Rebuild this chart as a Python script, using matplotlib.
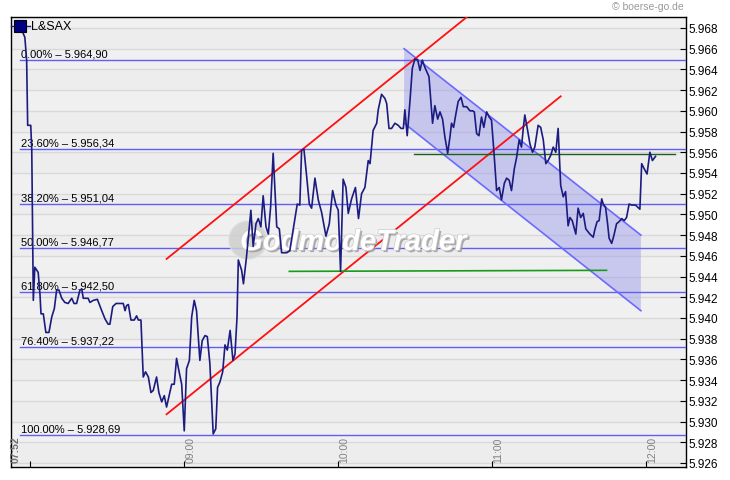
#!/usr/bin/env python3
"""
L&SAX intraday chart with Fibonacci retracements and trend channels
"""

import numpy as np
import matplotlib
matplotlib.use('Agg')
import matplotlib.pyplot as plt
import matplotlib.patheffects as pe
from matplotlib.patches import Ellipse

plt.rcParams['font.family'] = ['Liberation Sans', 'DejaVu Sans']

# minutes relative to 09:00, and index value
minutes = [-64.1, -62.2, -61.5, -61.1, -59.9, -59.5, -58.9, -58.3, -57.0, -56.3,
           -55.9, -55.0, -54.0, -52.8, -51.7, -50.7, -49.8, -48.9, -47.8, -46.6,
           -45.3, -43.9, -43.0, -42.0, -40.7, -40.0, -39.4, -37.5, -36.8, -35.5,
           -33.9, -32.2, -30.9, -29.7, -29.0, -27.9, -26.6, -23.8, -23.1, -22.5,
           -21.8, -20.8, -19.5, -18.6, -17.9, -16.9, -16.0, -15.1, -14.0, -13.0,
           -12.1, -10.8, -9.9, -8.8, -7.8, -6.9, -5.9, -4.9, -3.9, -3.0,
           -2.0, -1.0, 0.0, 0.9, 2.0, 2.9, 3.9, 4.8, 6.1, 7.0,
           8.1, 9.0, 10.0, 11.3, 12.3, 13.0, 13.9, 15.0, 15.9, 16.8,
           17.9, 19.0, 19.8, 20.6, 21.1, 22.4, 23.1, 24.3, 26.0, 26.9,
           28.0, 28.9, 29.9, 30.8, 31.9, 32.8, 33.7, 34.7, 36.1, 37.1,
           38.0, 40.0, 41.2, 42.5, 44.1, 45.1, 45.8, 46.7, 47.8, 48.8,
           49.7, 51.0, 52.3, 53.6, 55.3, 56.6, 57.9, 59.2, 60.1, 61.0,
           62.0, 63.1, 64.0, 65.3, 66.8, 68.0, 69.2, 70.5, 71.8, 72.5,
           73.7, 75.1, 75.7, 77.0, 78.3, 79.0, 79.9, 80.9, 82.2, 83.5,
           84.6, 85.5, 86.1, 87.0, 88.1, 89.0, 90.0, 91.1, 92.0, 92.9,
           93.9, 95.5, 96.9, 97.8, 98.9, 99.8, 100.8, 101.7, 102.8, 103.7,
           104.3, 105.1, 106.0, 106.9, 108.0, 108.9, 110.2, 111.5, 112.5, 113.2,
           114.1, 115.0, 116.0, 116.9, 118.0, 119.0, 119.9, 120.8, 121.9, 122.9,
           123.8, 124.9, 125.8, 126.8, 127.7, 128.8, 129.7, 130.7, 131.6, 132.3,
           132.9, 134.0, 134.9, 135.9, 136.8, 138.1, 139.1, 140.1, 141.1, 142.0,
           143.0, 144.0, 145.0, 145.9, 146.9, 147.9, 148.8, 149.8, 150.5, 151.4,
           152.8, 153.7, 154.7, 155.7, 156.7, 158.3, 159.6, 160.2, 161.1, 161.9,
           162.9, 163.5, 164.4, 165.2, 165.8, 166.8, 167.7, 168.7, 169.7, 170.7,
           171.7, 172.6, 173.6, 174.6, 176.1, 177.8, 178.5, 179.5, 180.6, 181.7,
           182.7, 183.9]
prices = [5.9682, 5.9671, 5.9649, 5.9586, 5.9586, 5.9562, 5.9417, 5.9449, 5.9444, 5.9423,
          5.9404, 5.9404, 5.9386, 5.9386, 5.9401, 5.9409, 5.9427, 5.9427, 5.9419, 5.9415,
          5.9414, 5.9419, 5.9414, 5.9414, 5.9427, 5.9428, 5.9419, 5.9419, 5.9415, 5.9417,
          5.9418, 5.9407, 5.9399, 5.9394, 5.9394, 5.9411, 5.9414, 5.9414, 5.9407, 5.9412,
          5.9413, 5.9398, 5.9398, 5.9402, 5.9398, 5.9398, 5.9343, 5.9348, 5.9343, 5.9328,
          5.9330, 5.9343, 5.9328, 5.9319, 5.9325, 5.9314, 5.9325, 5.9336, 5.9336, 5.9361,
          5.9348, 5.9336, 5.9291, 5.9351, 5.9359, 5.9401, 5.9417, 5.9407, 5.9359, 5.9378,
          5.9383, 5.9382, 5.9356, 5.9288, 5.9293, 5.9333, 5.9338, 5.9348, 5.9374, 5.9369,
          5.9388, 5.9359, 5.9365, 5.9401, 5.9456, 5.9446, 5.9433, 5.9459, 5.9504, 5.9469,
          5.9491, 5.9496, 5.9488, 5.9518, 5.9488, 5.9481, 5.9507, 5.9559, 5.9488, 5.9486,
          5.9463, 5.9463, 5.9465, 5.9485, 5.9510, 5.9509, 5.9562, 5.9563, 5.9536, 5.9510,
          5.9506, 5.9535, 5.9514, 5.9502, 5.9479, 5.9491, 5.9523, 5.9509, 5.9504, 5.9445,
          5.9534, 5.9526, 5.9501, 5.9515, 5.9526, 5.9496, 5.9520, 5.9526, 5.9552, 5.9549,
          5.9581, 5.9588, 5.9601, 5.9616, 5.9612, 5.9607, 5.9583, 5.9583, 5.9588, 5.9586,
          5.9583, 5.9583, 5.9601, 5.9576, 5.9610, 5.9641, 5.9650, 5.9649, 5.9639, 5.9649,
          5.9642, 5.9633, 5.9588, 5.9605, 5.9592, 5.9599, 5.9592, 5.9575, 5.9559, 5.9575,
          5.9588, 5.9584, 5.9597, 5.9609, 5.9613, 5.9604, 5.9604, 5.9600, 5.9600, 5.9599,
          5.9578, 5.9576, 5.9594, 5.9584, 5.9599, 5.9594, 5.9591, 5.9562, 5.9523, 5.9526,
          5.9514, 5.9530, 5.9535, 5.9533, 5.9523, 5.9544, 5.9555, 5.9572, 5.9565, 5.9583,
          5.9596, 5.9581, 5.9568, 5.9560, 5.9565, 5.9586, 5.9584, 5.9572, 5.9549, 5.9552,
          5.9557, 5.9565, 5.9560, 5.9583, 5.9528, 5.9517, 5.9522, 5.9489, 5.9497, 5.9494,
          5.9481, 5.9506, 5.9497, 5.9501, 5.9486, 5.9481, 5.9478, 5.9485, 5.9493, 5.9494,
          5.9515, 5.9510, 5.9507, 5.9491, 5.9477, 5.9472, 5.9480, 5.9491, 5.9493, 5.9496,
          5.9494, 5.9497, 5.9510, 5.9509, 5.9509, 5.9505, 5.9549, 5.9544, 5.9539, 5.9560,
          5.9552, 5.9556]

fib_pct = ['0.00%', '23.60%', '38.20%', '50.00%', '61.80%', '76.40%', '100.00%']
fib_levels = [5.96490, 5.95634, 5.95104, 5.94677, 5.94250, 5.93722, 5.92869]
fib_start = -64.1

# trend lines: (x0, y0, x1, y1)
red_upper = (-6.9, 5.9457, 112.0, 5.9694)
red_lower = (-6.9, 5.9307, 146.9, 5.9614)
chan_upper = (85.8, 5.9660, 178.2, 5.9480)
chan_lower = (85.8, 5.9588, 178.2, 5.9407)
green_low = (41.0, 5.9445, 164.8, 5.9446)
green_high = (89.7, 5.9558, 191.7, 5.9558)

tick_minutes = [-60, 0, 60, 120, 180]
tick_labels = ['', '09:00', '10:00', '11:00', '12:00']
y_ticks = np.round(np.arange(5.926, 5.9681, 0.002), 3)

fig = plt.figure(figsize=(7.3, 4.81), dpi=100)
fig.patch.set_facecolor('white')
ax = fig.add_axes([10.5 / 730, 13 / 481, 675.5 / 730, 450 / 481])
ax.set_xlim(-67.8, 195.8)
ax.set_ylim(5.92561, 5.96906)
ax.set_facecolor('#eeeeee')

# alternating background bands + grid
for i, y in enumerate(np.arange(5.924, 5.970, 0.002)):
    ax.axhspan(y, y + 0.002, color='#ededed' if i % 2 else '#f0f0f0', lw=0, zorder=0)
for y in y_ticks:
    ax.axhline(y, color='#d9d9d9', lw=1, zorder=1)

# blue falling channel
cx = [chan_upper[0], chan_upper[2], chan_lower[2], chan_lower[0]]
cy = [chan_upper[1], chan_upper[3], chan_lower[3], chan_lower[1]]
ax.fill(cx, cy, color='#9898ee', alpha=0.45, lw=0, zorder=2)
for seg in (chan_upper, chan_lower):
    ax.plot([seg[0], seg[2]], [seg[1], seg[3]], color='#6a6aff', lw=1.2, zorder=4)

# fibonacci levels
for pct, lvl in zip(fib_pct, fib_levels):
    ax.plot([fib_start, 200], [lvl, lvl], color='#5f5ff7', lw=1, zorder=3)
    s = f'{lvl:.5f}'
    ax.annotate(f'{pct} – {s[:5]},{s[5:]}', xy=(fib_start, lvl), xytext=(1, 2.5),
                textcoords='offset points', fontsize=8, va='baseline', ha='left',
                color='black', zorder=6)

# red uptrend channel
for seg in (red_upper, red_lower):
    ax.plot([seg[0], seg[2]], [seg[1], seg[3]], color='#ff1010', lw=1.3, zorder=4)

ax.plot([green_low[0], green_low[2]], [green_low[1], green_low[3]], color='#1a9a1a', lw=1.2, zorder=4)
ax.plot([green_high[0], green_high[2]], [green_high[1], green_high[3]], color='#1e5e1e', lw=1, zorder=4)

# watermark
ax.add_patch(Ellipse((0.3516, 0.5044), 0.0563, 0.0844, transform=ax.transAxes,
                     facecolor='#cfcfcf', edgecolor='#dddddd', alpha=0.85, zorder=5))
ax.text(0.507, 0.50, 'GodmodeTrader', transform=ax.transAxes, fontsize=21,
        fontweight='bold', style='italic', color='white', ha='center', va='center',
        zorder=5, path_effects=[pe.withSimplePatchShadow(offset=(1.5, -1.5), shadow_rgbFace='#999999', alpha=0.8),
                                pe.Stroke(linewidth=1, foreground='#cccccc'), pe.Normal()])

# price line
ax.plot(minutes, prices, color='#1c1c80', lw=1.2, zorder=7)

# legend
ax.plot([0, 0.029], [0.98, 0.98], color='#1c1c80', lw=1, transform=ax.transAxes, zorder=8, clip_on=False)
ax.plot([0.0141], [0.98], marker='s', ms=8, mfc='#000080', mec='black', mew=0.8,
        transform=ax.transAxes, zorder=9, clip_on=False)
ax.text(0.030, 0.98, 'L&SAX', transform=ax.transAxes, fontsize=9, va='center', ha='left', zorder=9)

# axes / ticks
for side in ('left', 'right', 'top', 'bottom'):
    ax.spines[side].set_color('black')
    ax.spines[side].set_linewidth(1)
ax.yaxis.tick_right()
ax.set_yticks(y_ticks)
ax.set_yticklabels([f'{v:.3f}' for v in y_ticks])
ax.tick_params(axis='y', direction='in', length=4, labelsize=8.5, pad=2, right=True, left=False)
ax.set_xticks(tick_minutes)
ax.set_xticklabels([])
ax.tick_params(axis='x', direction='in', length=4)

for t, lab in zip(tick_minutes, tick_labels):
    if lab:
        ax.annotate(lab, xy=(t, 0), xycoords=('data', 'axes fraction'), xytext=(4.7, 3.4),
                    textcoords='offset points', rotation=90, ha='center', va='bottom',
                    fontsize=7.5, color='#808080', zorder=8)
ax.text(0.0078, 0.011, '07:52', transform=ax.transAxes, rotation=90, ha='center', va='bottom',
        fontsize=7.5, color='#707070', fontweight='bold', zorder=8)

fig.text(684 / 730, 1 - 7.5 / 481, '© boerse-go.de', ha='right', va='center', fontsize=7.5, color='#999999')

fig.savefig('out.png', dpi=100)
